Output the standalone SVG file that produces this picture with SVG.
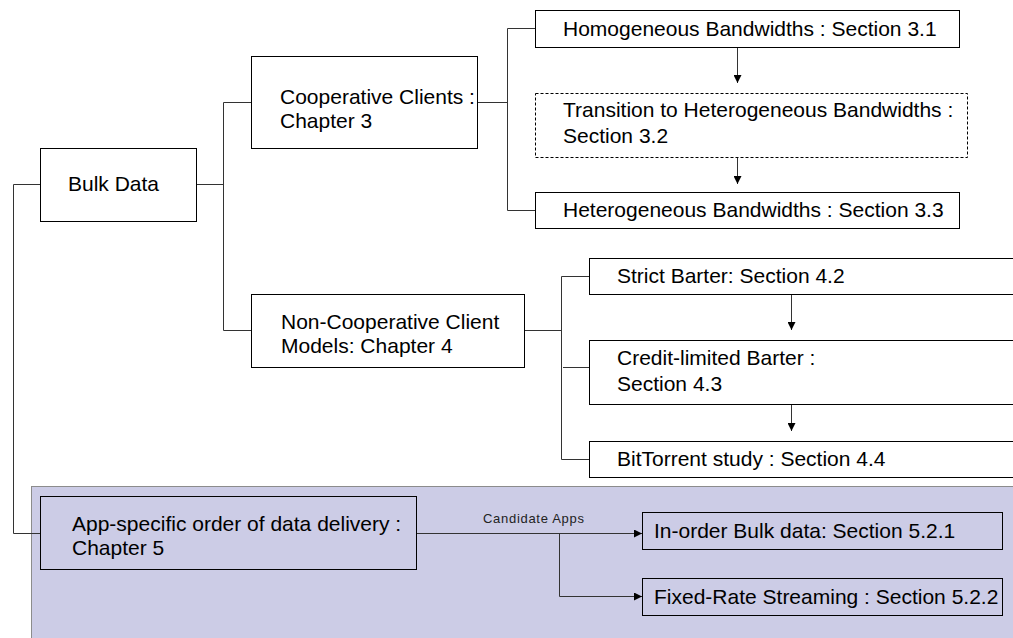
<svg xmlns="http://www.w3.org/2000/svg" width="1013" height="638" viewBox="0 0 1013 638">
  <style>
    .box { fill: #ffffff; stroke: #000000; stroke-width: 1; }
    .boxp { fill: none; stroke: #000000; stroke-width: 1; }
    .dash { fill: #ffffff; stroke: #000000; stroke-width: 1; stroke-dasharray: 3 2; }
    .line { fill: none; stroke: #333333; stroke-width: 1; }
    .t { font-family: "Liberation Sans", Arial, sans-serif; font-size: 21px; fill: #000000; }
    .small { font-family: "Liberation Sans", Arial, sans-serif; font-size: 13px; letter-spacing: 0.7px; fill: #222222; }
  </style>
  <defs>
    <marker id="arr" viewBox="0 0 10 10" refX="10" refY="5" markerWidth="8" markerHeight="8" markerUnits="userSpaceOnUse" orient="auto">
      <path d="M0,0 L10,5 L0,10 z" fill="#000000"/>
    </marker>
  </defs>
  <rect width="1013" height="638" fill="#ffffff"/>

  <!-- shaded band for chapter 5 -->
  <rect x="31.5" y="486.5" width="990" height="160" fill="#cccce6" stroke="#8c8c8c" stroke-width="1"/>

  <g id="connectors">
    <!-- Bulk Data to chapters -->
    <path class="line" d="M196.5,184.5 H223.5 M223.5,102.5 V330.5 M223.5,102.5 H251 M223.5,330.5 H251"/>
    <path class="line" d="M40,184.5 H13.5 V533.5 H40"/>
    <!-- chapter 3 sections -->
    <path class="line" d="M477,102.5 H507.5 M507.5,28.5 V210.5 M507.5,28.5 H535 M507.5,210.5 H535"/>
    <path class="line" d="M737.5,47 V83" marker-end="url(#arr)"/>
    <path class="line" d="M737.5,157 V184" marker-end="url(#arr)"/>
    <!-- chapter 4 sections -->
    <path class="line" d="M524,330.5 H561.5 M561.5,276.5 V459.5 M561.5,276.5 H589 M561.5,459.5 H589 M563,367.5 H589"/>
    <path class="line" d="M791.5,294 V330" marker-end="url(#arr)"/>
    <path class="line" d="M791.5,404 V431" marker-end="url(#arr)"/>
    <!-- chapter 5 apps -->
    <path class="line" d="M416,533.5 H642" marker-end="url(#arr)"/>
    <path class="line" d="M559.5,533.5 V596.5 H642" marker-end="url(#arr)"/>
    <text class="small" x="483" y="523">Candidate Apps</text>
  </g>

  <g id="bulk-data">
    <rect class="box" x="40.5" y="148.5" width="156" height="73"/>
    <text class="t" x="68" y="191">Bulk Data</text>
  </g>

  <g id="cooperative-clients">
    <rect class="box" x="251.5" y="56.5" width="226" height="92"/>
    <text class="t" x="280" y="104">Cooperative Clients :</text>
    <text class="t" x="280" y="128">Chapter 3</text>
  </g>

  <g id="non-cooperative">
    <rect class="box" x="251.5" y="294.5" width="273" height="73"/>
    <text class="t" x="281" y="329">Non-Cooperative Client</text>
    <text class="t" x="281" y="353">Models: Chapter 4</text>
  </g>

  <g id="homogeneous">
    <rect class="box" x="535.5" y="10.5" width="424" height="37"/>
    <text class="t" x="563" y="36">Homogeneous Bandwidths : Section 3.1</text>
  </g>

  <g id="transition">
    <rect class="dash" x="535.5" y="93.5" width="432" height="64"/>
    <text class="t" x="563" y="117">Transition to Heterogeneous Bandwidths :</text>
    <text class="t" x="563" y="143">Section 3.2</text>
  </g>

  <g id="heterogeneous">
    <rect class="box" x="535.5" y="192.5" width="424" height="36"/>
    <text class="t" x="563" y="217">Heterogeneous Bandwidths : Section 3.3</text>
  </g>

  <g id="strict-barter">
    <rect class="box" x="589.5" y="258.5" width="430" height="36"/>
    <text class="t" x="617" y="283">Strict Barter: Section 4.2</text>
  </g>

  <g id="credit-limited">
    <rect class="box" x="589.5" y="340.5" width="430" height="64"/>
    <text class="t" x="617" y="365">Credit-limited Barter :</text>
    <text class="t" x="617" y="391">Section 4.3</text>
  </g>

  <g id="bittorrent">
    <rect class="box" x="589.5" y="441.5" width="430" height="36"/>
    <text class="t" x="617" y="466">BitTorrent study : Section 4.4</text>
  </g>

  <g id="app-specific">
    <rect class="boxp" x="40.5" y="496.5" width="376" height="73"/>
    <text class="t" x="72" y="531">App-specific order of data delivery :</text>
    <text class="t" x="72" y="555">Chapter 5</text>
  </g>

  <g id="in-order">
    <rect class="boxp" x="642.5" y="512.5" width="360" height="37"/>
    <text class="t" x="654" y="538">In-order Bulk data: Section 5.2.1</text>
  </g>

  <g id="fixed-rate">
    <rect class="boxp" x="642.5" y="578.5" width="360" height="37"/>
    <text class="t" x="654" y="604">Fixed-Rate Streaming : Section 5.2.2</text>
  </g>
</svg>
